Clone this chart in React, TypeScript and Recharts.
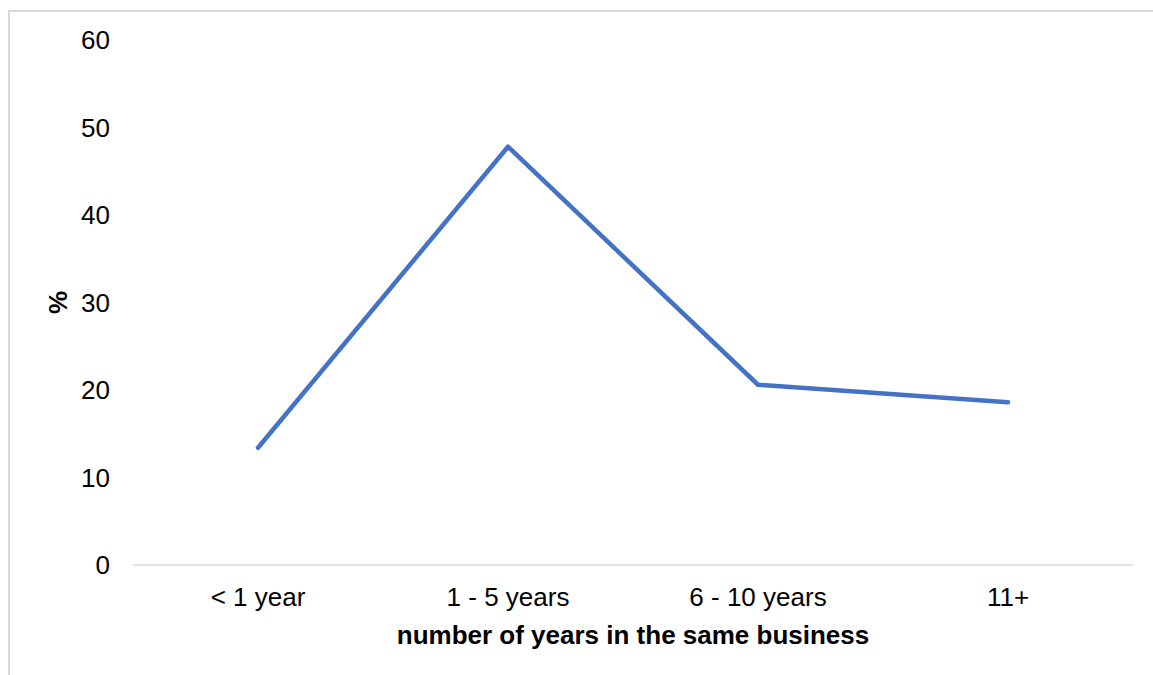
import { LineChart, Line, XAxis, YAxis, Label } from "recharts"

const categories = ["< 1 year", "1 - 5 years", "6 - 10 years", "11+"]
const percentages = [13.4, 47.8, 20.6, 18.6]
const yTicks = [0, 10, 20, 30, 40, 50, 60]

const chartData = categories.map((name, i) => ({ name, value: percentages[i] }))

const FONT = "'Liberation Sans', Arial, sans-serif"
const FS = 26

export default function App() {
  return (
    <div
      style={{
        position: "fixed",
        left: 0,
        top: 0,
        width: 1153,
        height: 675,
        background: "#fff",
        overflow: "hidden",
        fontFamily: FONT,
      }}
    >
      {/* light frame around the chart area */}
      <div
        style={{
          position: "absolute",
          left: 8,
          top: 10,
          width: 1200,
          height: 700,
          borderTop: "2px solid #d9d9d9",
          borderLeft: "2px solid #d9d9d9",
        }}
      />
      <div style={{ position: "absolute", left: 0, top: 0 }}>
        <LineChart
          width={1153}
          height={675}
          data={chartData}
          margin={{ top: 40, right: 20, bottom: 20, left: 8 }}
        >
          <XAxis
            dataKey="name"
            height={90}
            padding={{ left: 125, right: 125 }}
            axisLine={{ stroke: "#d9d9d9", strokeWidth: 1.5 }}
            tickLine={false}
            tickSize={0}
            tickMargin={23}
            tick={{ fontSize: FS, fill: "#000", fontFamily: FONT }}
          >
            <Label
              content={(props: any) => {
                const vb = props.viewBox
                return (
                  <text
                    x={vb.x + vb.width / 2}
                    y={vb.y + 79}
                    textAnchor="middle"
                    fontSize={FS}
                    fontWeight="bold"
                    fontFamily={FONT}
                    fill="#000"
                  >
                    number of years in the same business
                  </text>
                )
              }}
            />
          </XAxis>
          <YAxis
            width={125}
            domain={[0, 60]}
            ticks={yTicks}
            axisLine={false}
            tickLine={false}
            tickSize={0}
            tickMargin={23}
            tick={{ fontSize: FS, fill: "#000", fontFamily: FONT }}
          >
            <Label
              content={(props: any) => {
                const vb = props.viewBox
                const cx = 58
                const cy = vb.y + vb.height / 2
                return (
                  <text
                    x={cx}
                    y={cy}
                    transform={`rotate(-90 ${cx} ${cy})`}
                    textAnchor="middle"
                    dominantBaseline="central"
                    fontSize={FS}
                    fontWeight="bold"
                    fontFamily={FONT}
                    fill="#000"
                  >
                    %
                  </text>
                )
              }}
            />
          </YAxis>
          <Line
            type="linear"
            dataKey="value"
            stroke="#4472c4"
            strokeWidth={4.5}
            strokeLinecap="round"
            strokeLinejoin="round"
            dot={false}
            activeDot={false}
            isAnimationActive={false}
          />
        </LineChart>
      </div>
    </div>
  )
}
